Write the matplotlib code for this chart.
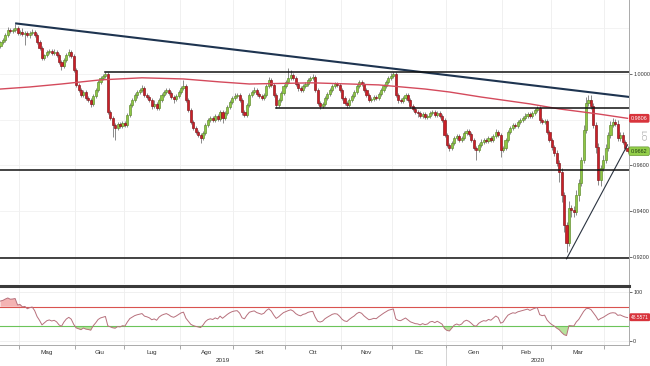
import numpy as np
import pandas as pd
import matplotlib
matplotlib.use('Agg')
import matplotlib.pyplot as plt
import matplotlib.transforms as mtrans
from matplotlib.lines import Line2D

plt.rcParams['font.family'] = ['Liberation Sans Narrow', 'Liberation Sans', 'DejaVu Sans']

# daily USD/CHF candles, 19 Apr 2019 - 14 Apr 2020 (business days)
dates = pd.bdate_range('2019-04-19', '2020-04-14')
first_open = 1.0120
closes = [
    1.0140, 1.0149, 1.0170, 1.0192, 1.0188, 1.0192, 1.0201, 1.0179, 1.0184, 1.0175,
    1.0179, 1.0170, 1.0179, 1.0184, 1.0170, 1.0140, 1.0114, 1.0070, 1.0083, 1.0096,
    1.0101, 1.0092, 1.0096, 1.0083, 1.0052, 1.0035, 1.0061, 1.0083, 1.0096, 1.0079,
    1.0017, 0.9952, 0.9930, 0.9908, 0.9921, 0.9895, 0.9886, 0.9869, 0.9904, 0.9930,
    0.9965, 0.9983, 0.9991, 1.0000, 0.9834, 0.9808, 0.9777, 0.9764, 0.9782, 0.9773,
    0.9786, 0.9777, 0.9821, 0.9865, 0.9886, 0.9908, 0.9921, 0.9930, 0.9939, 0.9908,
    0.9899, 0.9886, 0.9860, 0.9869, 0.9851, 0.9886, 0.9908, 0.9921, 0.9930, 0.9917,
    0.9899, 0.9891, 0.9904, 0.9921, 0.9939, 0.9948, 0.9886, 0.9843, 0.9790, 0.9764,
    0.9747, 0.9733, 0.9720, 0.9742, 0.9777, 0.9799, 0.9808, 0.9799, 0.9816, 0.9803,
    0.9834, 0.9808, 0.9830, 0.9856, 0.9878, 0.9895, 0.9904, 0.9908, 0.9886, 0.9834,
    0.9821, 0.9865, 0.9908, 0.9921, 0.9930, 0.9913, 0.9904, 0.9895, 0.9908, 0.9948,
    0.9974, 0.9952, 0.9908, 0.9865, 0.9886, 0.9917, 0.9948, 0.9965, 0.9983, 0.9996,
    0.9983, 0.9956, 0.9939, 0.9930, 0.9948, 0.9956, 0.9974, 0.9983, 0.9987, 0.9930,
    0.9873, 0.9860, 0.9869, 0.9895, 0.9913, 0.9930, 0.9948, 0.9956, 0.9952, 0.9930,
    0.9895, 0.9873, 0.9865, 0.9886, 0.9904, 0.9921, 0.9948, 0.9965, 0.9956, 0.9930,
    0.9908, 0.9886, 0.9891, 0.9899, 0.9895, 0.9913, 0.9930, 0.9948, 0.9965, 0.9983,
    0.9991, 1.0000, 0.9908, 0.9886, 0.9882, 0.9895, 0.9908, 0.9886, 0.9860, 0.9847,
    0.9834, 0.9830, 0.9816, 0.9825, 0.9812, 0.9816, 0.9830, 0.9834, 0.9821, 0.9830,
    0.9816, 0.9799, 0.9733, 0.9690, 0.9677, 0.9698, 0.9720, 0.9729, 0.9712, 0.9720,
    0.9742, 0.9751, 0.9738, 0.9712, 0.9677, 0.9668, 0.9690, 0.9703, 0.9712, 0.9707,
    0.9720, 0.9712, 0.9729, 0.9747, 0.9733, 0.9668, 0.9677, 0.9712, 0.9747, 0.9764,
    0.9777, 0.9773, 0.9790, 0.9799, 0.9808, 0.9816, 0.9825, 0.9816, 0.9830, 0.9843,
    0.9851, 0.9799, 0.9790, 0.9795, 0.9747, 0.9712, 0.9681, 0.9655, 0.9611, 0.9572,
    0.9471, 0.9340, 0.9261, 0.9414, 0.9406, 0.9397, 0.9471, 0.9524, 0.9624, 0.9755,
    0.9873, 0.9886, 0.9860, 0.9777, 0.9681, 0.9537, 0.9589, 0.9624, 0.9677, 0.9733,
    0.9777, 0.9790, 0.9782, 0.9720, 0.9733, 0.9703, 0.9677, 0.9662,
]
# wick lengths beyond the body, in pips
wick_up = [
    6, 8, 10, 12, 8, 8, 18, 8, 6, 15, 8, 8, 8, 12, 8, 8, 8, 10, 6, 8,
    8, 8, 12, 8, 8, 10, 8, 8, 14, 8, 8, 8, 10, 8, 8, 8, 8, 8, 8, 8,
    8, 10, 8, 9, 8, 8, 8, 8, 10, 8, 8, 8, 8, 10, 8, 8, 8, 8, 14, 8,
    8, 8, 8, 16, 8, 8, 8, 8, 10, 8, 8, 8, 8, 8, 8, 26, 8, 8, 8, 8,
    8, 8, 8, 8, 8, 8, 8, 8, 10, 8, 8, 8, 8, 8, 8, 8, 12, 8, 8, 8,
    8, 8, 8, 8, 13, 8, 8, 8, 8, 10, 13, 8, 8, 8, 8, 8, 8, 8, 44, 22,
    8, 8, 8, 8, 8, 8, 8, 8, 12, 8, 8, 8, 8, 8, 8, 8, 8, 8, 8, 8,
    8, 8, 8, 8, 8, 8, 8, 10, 8, 8, 8, 8, 8, 8, 8, 8, 8, 8, 8, 8,
    12, 9, 8, 8, 8, 8, 8, 8, 8, 8, 8, 8, 8, 8, 8, 8, 8, 8, 8, 8,
    8, 8, 8, 8, 8, 8, 8, 8, 8, 8, 8, 8, 8, 8, 8, 8, 8, 14, 8, 8,
    8, 8, 8, 12, 8, 8, 8, 8, 8, 8, 8, 8, 8, 8, 8, 14, 8, 8, 8, 8,
    10, 8, 8, 8, 8, 8, 10, 10, 12, 12, 15, 15, 15, 30, 15, 15, 20, 15, 15, 20,
    25, 22, 20, 15, 15, 15, 15, 20, 15, 15, 18, 18, 12, 15, 12, 12, 10, 8,
]
wick_dn = [
    8, 8, 8, 8, 10, 8, 8, 8, 8, 8, 48, 8, 15, 8, 8, 8, 8, 8, 8, 8,
    8, 8, 8, 8, 8, 20, 8, 8, 8, 8, 8, 8, 8, 8, 8, 8, 8, 13, 8, 8,
    8, 8, 8, 8, 8, 8, 52, 52, 8, 8, 8, 8, 8, 8, 8, 8, 14, 8, 8, 8,
    8, 8, 15, 8, 8, 8, 8, 8, 8, 8, 8, 20, 8, 8, 8, 8, 8, 8, 8, 8,
    8, 8, 22, 8, 8, 8, 8, 8, 8, 8, 8, 22, 8, 8, 8, 8, 8, 8, 8, 15,
    8, 8, 8, 8, 8, 8, 8, 8, 8, 8, 8, 8, 8, 13, 8, 8, 8, 8, 8, 8,
    8, 8, 14, 8, 8, 8, 8, 8, 8, 8, 8, 12, 8, 8, 8, 8, 8, 8, 8, 8,
    8, 8, 12, 8, 8, 8, 8, 8, 8, 8, 8, 8, 8, 8, 8, 8, 8, 8, 8, 8,
    8, 8, 8, 12, 8, 8, 8, 8, 8, 8, 8, 18, 8, 8, 8, 8, 8, 8, 8, 8,
    8, 8, 8, 8, 15, 8, 8, 8, 8, 8, 8, 8, 8, 8, 8, 44, 8, 8, 8, 8,
    8, 8, 8, 8, 8, 30, 8, 8, 8, 8, 8, 8, 8, 8, 8, 8, 8, 8, 8, 8,
    8, 14, 8, 8, 10, 10, 12, 15, 15, 44, 30, 30, 40, 15, 30, 22, 15, 25, 15, 15,
    15, 12, 15, 15, 25, 22, 25, 15, 12, 12, 12, 10, 10, 12, 15, 10, 10, 8,
]

# 200-day moving average, read at a few points
ma_idx = [0, 12, 25, 41, 58, 75, 90, 102, 128, 155, 174, 184, 197, 217, 229, 245, 257]
ma_val = [0.9934, 0.9943, 0.9956, 0.9974, 0.9983, 0.9978, 0.9965, 0.9956, 0.9961,
          0.9952, 0.9934, 0.9921, 0.9899, 0.9869, 0.9847, 0.9825, 0.9806]

# RSI smoothing state carried in from before the window (avg gain, avg loss)
rsi_seed = (0.00060, 0.00017)

# drawn levels and trend lines
down_trend = [(6, 1.0221), (258, 0.9899)]
up_trend = [(232, 0.9192), (257, 0.9690)]
levels = [(43, 1.0009), (113, 0.9851), (-1, 0.9580), (-1, 0.9194)]

price_ticks = [0.92, 0.94, 0.96, 1.00]
ma_label = 0.9806
last_label = 0.9662
rsi_label = 48.5571
month_labels = ['Mag', 'Giu', 'Lug', 'Ago', 'Set', 'Ott', 'Nov', 'Dic', 'Gen', 'Feb', 'Mar']
years = ['2019', '2020']

closes = np.array(closes)
opens = np.r_[first_open, closes[:-1]]
highs = np.maximum(opens, closes) + np.array(wick_up) * 1e-4
lows = np.minimum(opens, closes) - np.array(wick_dn) * 1e-4
n = len(closes)
x = np.arange(n)

# Wilder RSI 14
diffs = closes - opens
ag, al = rsi_seed
rsi = []
for dv in diffs:
    ag = (ag * 13 + max(dv, 0)) / 14
    al = (al * 13 + max(-dv, 0)) / 14
    rsi.append(100 - 100 / (1 + ag / al))
rsi = np.array(rsi)

W, H = 650, 366
fig = plt.figure(figsize=(6.5, 3.66), dpi=100)
ax = fig.add_axes([0, 1 - 284 / H, 629 / W, 284 / H])
ax2 = fig.add_axes([0, 1 - 345 / H, 629 / W, 57 / H])
xlim = (-0.2, 257.6)

# month boundaries
mon = dates.month
bounds = [i for i in range(1, n) if mon[i] != mon[i - 1]]
edges = [0] + bounds + [n]
centers = [(edges[k] + edges[k + 1]) / 2 - 0.5 for k in range(1, len(edges) - 2)]
year_b = [b for b in bounds if dates[b].month == 1][0]

for a in (ax, ax2):
    for b in bounds:
        a.axvline(b - 0.5, color='#eeeeee', lw=0.6, zorder=0)

for t in price_ticks + [0.98, 1.02]:
    ax.axhline(t, color='#f1f1f1', lw=0.6, zorder=0)

# candles
up = closes >= opens
ax.vlines(x, lows, highs, color='#8a8a8a', lw=0.7, zorder=2)
body = np.maximum(np.abs(closes - opens), 0.0003)
ax.bar(x[up], body[up], bottom=opens[up], width=0.86, color='#8fc744',
       edgecolor='#5c8a2a', lw=0.45, zorder=3)
ax.bar(x[~up], body[~up], bottom=closes[~up], width=0.86, color='#cc1f27',
       edgecolor='#80131a', lw=0.45, zorder=3)

ax.plot(ma_idx, ma_val, color='#d44a5c', lw=1.0, zorder=4)
ax.plot(*zip(*down_trend), color='#1e3450', lw=1.5, zorder=5, solid_capstyle='butt')
ax.plot(*zip(*up_trend), color='#2a3340', lw=0.8, zorder=5)
for start, lev in levels:
    ax.plot([max(start, xlim[0]), xlim[1]], [lev, lev], color='#111111', lw=1.1, zorder=5)

ax.set_xlim(*xlim)
ax.set_ylim(0.9082, 1.0323)
ax.set_xticks([])
ax.yaxis.tick_right()
ax.set_yticks(price_ticks)
ax.set_yticklabels(['%.4f' % t for t in price_ticks])
ax.tick_params(axis='y', labelsize=3.9, length=2, width=0.6, pad=1,
               colors='#555555', labelcolor='#333333')
for s in ('top', 'left', 'bottom'):
    ax.spines[s].set_visible(False)
ax.spines['right'].set_color('#aaaaaa')
ax.spines['right'].set_linewidth(0.7)

tr = mtrans.blended_transform_factory(ax.transAxes, ax.transData)
ax.text(1.003, ma_label, '%.4f' % ma_label, transform=tr, ha='left', va='center',
        fontsize=3.9, color='white', clip_on=False, zorder=10,
        bbox=dict(boxstyle='round,pad=0.35,rounding_size=0.3', fc='#d8343c', ec='none'))
ax.text(1.003, last_label, '%.4f' % last_label, transform=tr, ha='left', va='center',
        fontsize=3.9, color='#1f3a10', clip_on=False, zorder=10,
        bbox=dict(boxstyle='round,pad=0.35,rounding_size=0.3', fc='#93cf4a', ec='#5c8a2a', lw=0.4))
fig.text(642 / W, 1 - 136 / H, 'LO', rotation=-90, fontsize=6, color='#b0b0b0',
         ha='center', va='center')

fig.add_artist(Line2D([0, 629 / W], [1 - 285.5 / H] * 2, lw=2.2, color='#3a3a3a'))

# RSI panel
ax2.plot(x, rsi, color='#b7707c', lw=0.7, zorder=3)
ax2.fill_between(x, rsi, 70, where=rsi > 70, interpolate=True, color='#f4b3b3', lw=0, zorder=2)
ax2.fill_between(x, rsi, 30, where=rsi < 30, interpolate=True, color='#b6e39c', lw=0, zorder=2)
ax2.axhline(70, color='#d9534f', lw=0.8, zorder=2)
ax2.axhline(30, color='#6cc45a', lw=0.8, zorder=2)
ax2.axhline(100, color='#eeeeee', lw=0.6, zorder=0)
ax2.axhline(0, color='#eeeeee', lw=0.6, zorder=0)
ax2.set_xlim(*xlim)
ax2.set_ylim(-8.2, 108.2)
ax2.yaxis.tick_right()
ax2.set_yticks([0, 100])
ax2.set_yticklabels(['0', '100'])
ax2.tick_params(axis='y', labelsize=3.9, length=2, width=0.6, pad=1,
                colors='#555555', labelcolor='#333333')
ax2.set_xticks([b - 0.5 for b in bounds])
ax2.set_xticklabels([])
ax2.tick_params(axis='x', length=3, width=0.6, colors='#999999')
for s in ('top', 'left'):
    ax2.spines[s].set_visible(False)
for s in ('right', 'bottom'):
    ax2.spines[s].set_color('#aaaaaa')
    ax2.spines[s].set_linewidth(0.7)
tr2 = mtrans.blended_transform_factory(ax2.transAxes, ax2.transData)
ax2.text(1.003, rsi_label, '%.4f' % rsi_label, transform=tr2, ha='left', va='center',
         fontsize=3.5, color='white', clip_on=False, zorder=10,
         bbox=dict(boxstyle='round,pad=0.3,rounding_size=0.3', fc='#d8343c', ec='none'))

trx = mtrans.blended_transform_factory(ax2.transData, ax2.transAxes)
for c, lab in zip(centers, month_labels):
    ax2.text(c, -0.13, lab, transform=trx, ha='center', va='center', fontsize=4.6, color='#333333')
ax2.text((xlim[0] + year_b - 0.5) / 2, -0.28, years[0], transform=trx, ha='center',
         va='center', fontsize=4.6, color='#333333')
ax2.text((year_b - 0.5 + xlim[1]) / 2, -0.28, years[1], transform=trx, ha='center',
         va='center', fontsize=4.6, color='#333333')
ax2.plot([year_b - 0.5] * 2, [-0.05, -0.4], transform=trx, color='#cccccc', lw=0.6,
         clip_on=False)

fig.savefig('out.png', dpi=100)
